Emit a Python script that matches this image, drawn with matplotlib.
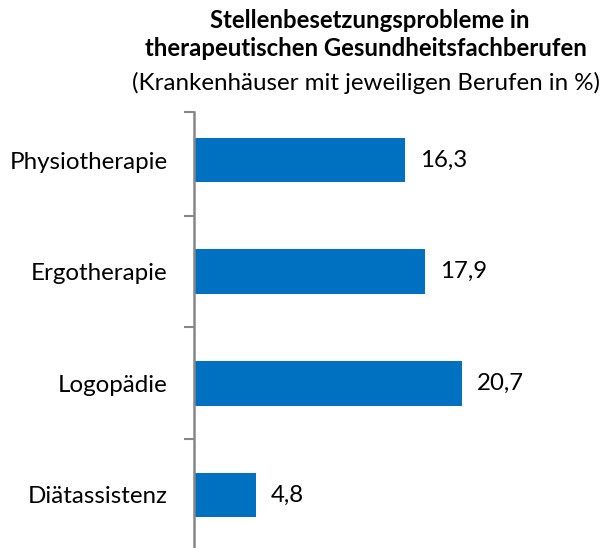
import matplotlib.pyplot as plt

# Daten
categories = ["Physiotherapie", "Ergotherapie", "Logopädie", "Diätassistenz"]
values = [16.3, 17.9, 20.7, 4.8]
value_labels = ["16,3", "17,9", "20,7", "4,8"]

plt.rcParams['font.family'] = ['Lato', 'DejaVu Sans']

W, H = 609, 548
fig = plt.figure(figsize=(W / 100, H / 100), dpi=100)

# axes placement in pixels
ax_left, ax_top, ax_bottom = 194, 112, 548
ax = fig.add_axes([ax_left / W, 1 - ax_bottom / H, 1 - ax_left / W, (ax_bottom - ax_top) / H])

pos = list(range(len(categories)))
ax.barh(pos, values, height=0.4, color="#0070C0")

for p, v, lab in zip(pos, values, value_labels):
    ax.text(v + 1.15, p, lab, va="center", ha="left", fontsize=17.3, color="#000000")

ax.set_xlim(0, 32.1)
ax.set_ylim(3.475, -0.43)

ax.set_yticks(pos)
ax.set_yticklabels(categories, fontsize=17.4)
ax.tick_params(axis="y", which="major", length=0, pad=19)
ax.set_yticks([-0.43, 0.5, 1.5, 2.5], minor=True)
ax.tick_params(axis="y", which="minor", length=7, width=1.5, color="#868686")
ax.set_xticks([])

for s in ["top", "right", "bottom"]:
    ax.spines[s].set_visible(False)
ax.spines["left"].set_color("#868686")
ax.spines["left"].set_linewidth(1.8)

cx = 366 / W
fig.text(cx + 4 / W, 1 - 20 / H, "Stellenbesetzungsprobleme in", ha="center", va="center",
         fontsize=17.2, fontweight="bold")
fig.text(cx, 1 - 48 / H, "therapeutischen Gesundheitsfachberufen", ha="center", va="center",
         fontsize=17.2, fontweight="bold")
fig.text(cx, 1 - 83 / H, "(Krankenhäuser mit jeweiligen Berufen in %)", ha="center", va="center",
         fontsize=17.4)

fig.savefig("out.png", dpi=100)
